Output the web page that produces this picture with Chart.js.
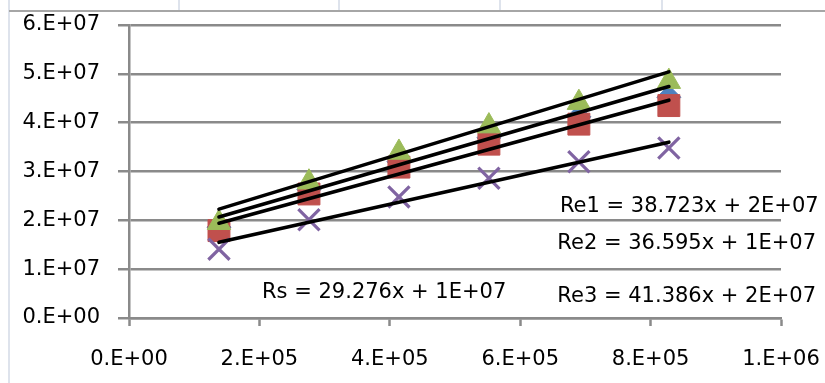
<!DOCTYPE html>
<html>
<head>
<meta charset="utf-8">
<script src="https://cdn.jsdelivr.net/npm/chart.js@4.4.1/dist/chart.umd.min.js"></script>
<style>
  html, body { margin: 0; padding: 0; background: #fff; }
  #wrap { width: 825px; height: 383px; }
</style>
</head>
<body>
<div id="wrap"><canvas id="chart" width="825" height="383"></canvas></div>
<script>
// values
const xValues = [138000, 276000, 414000, 552000, 690000, 828000];
const re1 = [1.86e7, 2.63e7, 3.20e7, 3.69e7, 4.12e7, 4.52e7];
const re2 = [1.79e7, 2.54e7, 3.09e7, 3.56e7, 3.97e7, 4.35e7];
const re3 = [1.95e7, 2.78e7, 3.39e7, 3.93e7, 4.41e7, 4.84e7];
const rs  = [1.41e7, 2.01e7, 2.48e7, 2.86e7, 3.20e7, 3.48e7];

// trendline ends (first and last x)
const trendX = [138000, 828000];
const re1Trend = [2.07e7, 4.74e7];
const re2Trend = [1.94e7, 4.46e7];
const re3Trend = [2.23e7, 5.04e7];
const rsTrend  = [1.55e7, 3.60e7];

const xTickLabels = ['0.E+00', '2.E+05', '4.E+05', '6.E+05', '8.E+05', '1.E+06'];
const yTickLabels = ['0.E+00', '1.E+07', '2.E+07', '3.E+07', '4.E+07', '5.E+07', '6.E+07'];
const equations = ['Re1 = 38.723x + 2E+07', 'Re2 = 36.595x + 1E+07', 'Re3 = 41.386x + 2E+07', 'Rs = 29.276x + 1E+07'];

const FONT = "'DejaVu Sans', sans-serif";
const GRID = '#8a8a8a';

const pts = (xs, ys) => xs.map((x, i) => ({ x: x, y: ys[i] }));

// spreadsheet cell lines + chart frame behind the chart
const sheetFrame = {
  id: 'sheetFrame',
  beforeDraw(chart) {
    const ctx = chart.ctx;
    ctx.save();
    ctx.strokeStyle = '#d3dae6';
    ctx.lineWidth = 1.5;
    ctx.beginPath();
    ctx.moveTo(9, 0); ctx.lineTo(9, chart.height);
    [179, 339, 500, 662].forEach(x => { ctx.moveTo(x, 0); ctx.lineTo(x, 10); });
    ctx.stroke();
    ctx.strokeStyle = '#a6a6a6';
    ctx.lineWidth = 2;
    ctx.beginPath();
    ctx.moveTo(9, 11); ctx.lineTo(chart.width, 11);
    ctx.stroke();
    ctx.restore();
  }
};

// trendline equation labels, anchored in data units
const eqLabels = {
  id: 'eqLabels',
  afterDraw(chart) {
    const ctx = chart.ctx;
    const xs = chart.scales.x, ys = chart.scales.y;
    const anchors = [[661000, 2.17e7], [657000, 1.41e7], [657000, 0.33e7], [204000, 0.40e7]];
    ctx.save();
    ctx.font = '21px ' + FONT;
    ctx.fillStyle = '#000';
    ctx.textAlign = 'left';
    ctx.textBaseline = 'alphabetic';
    equations.forEach((t, i) => {
      ctx.fillText(t, xs.getPixelForValue(anchors[i][0]), ys.getPixelForValue(anchors[i][1]));
    });
    ctx.restore();
  }
};

const trend = (label, xs, ys) => ({
  label: label,
  data: pts(xs, ys),
  showLine: true,
  borderColor: '#000',
  borderWidth: 3.6,
  borderCapStyle: 'round',
  pointRadius: 0,
  order: 0
});

const ctx = document.getElementById('chart').getContext('2d');
const chart = new Chart(ctx, {
  type: 'scatter',
  data: {
    datasets: [
      { label: 'Re1', data: pts(xValues, re1), pointStyle: 'rectRot', pointRadius: 12,
        backgroundColor: '#4f81bd', borderColor: '#4f81bd', order: 4 },
      { label: 'Re2', data: pts(xValues, re2), pointStyle: 'rect', pointRadius: 15.5,
        backgroundColor: '#c0504d', borderColor: '#c0504d', order: 3 },
      { label: 'Re3', data: pts(xValues, re3), pointStyle: 'triangle', pointRadius: 13.5,
        backgroundColor: '#9bbb59', borderColor: '#9bbb59', order: 2 },
      { label: 'Rs', data: pts(xValues, rs), pointStyle: 'crossRot', pointRadius: 15,
        backgroundColor: '#8064a2', borderColor: '#8064a2', pointBorderWidth: 3.2, order: 1 },
      trend('Re1 trend', trendX, re1Trend),
      trend('Re2 trend', trendX, re2Trend),
      trend('Re3 trend', trendX, re3Trend),
      trend('Rs trend', trendX, rsTrend)
    ]
  },
  options: {
    responsive: false,
    animation: false,
    layout: { padding: { left: 0, right: 44, top: 25, bottom: 0 } },
    plugins: {
      legend: { display: false },
      tooltip: { enabled: false }
    },
    scales: {
      x: {
        type: 'linear',
        min: 0,
        max: 1000000,
        afterFit: s => {
          s.height = 65;
          s.paddingLeft = 0; s.paddingRight = 0;
        },
        ticks: {
          stepSize: 200000,
          padding: 21,
          color: '#000',
          font: { family: FONT, size: 21 },
          maxRotation: 0,
          callback: (v, i) => xTickLabels[i]
        },
        grid: { drawOnChartArea: false, drawTicks: true, tickLength: 8, tickColor: GRID, tickWidth: 2.5 },
        border: { color: GRID, width: 2.5 }
      },
      y: {
        min: 0,
        max: 60000000,
        afterFit: s => {
          s.width = 129;
          s.paddingTop = 0; s.paddingBottom = 0;
        },
        ticks: {
          stepSize: 10000000,
          padding: 18,
          color: '#000',
          font: { family: FONT, size: 21 },
          callback: (v, i) => yTickLabels[i]
        },
        grid: { color: GRID, lineWidth: 2.5, tickLength: 11, tickColor: GRID, tickWidth: 2.5 },
        border: { color: GRID, width: 2.5 }
      }
    }
  },
  plugins: [sheetFrame, eqLabels]
});
</script>
</body>
</html>
